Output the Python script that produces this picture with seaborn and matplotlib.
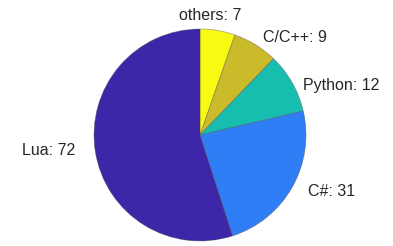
import matplotlib
matplotlib.use("Agg")
import matplotlib.pyplot as plt
import seaborn as sns

languages = ['others', 'C/C++', 'Python', 'C#', 'Lua']
counts = [7, 9, 12, 31, 72]
colors = ['#F9FA14', '#CBBB2B', '#17BEB0', '#307EF6', '#3D27A8']

sns.set_style("white")
plt.rcParams['font.family'] = ['Liberation Sans', 'DejaVu Sans']

fig = plt.figure(figsize=(3.93, 2.46), dpi=100)
# pie centred at (200,135) px with radius 106 px
ax = fig.add_axes([94 / 393, 5 / 246, 212 / 393, 212 / 246])

labels = [f'{l}: {c}' for l, c in zip(languages, counts)]
wedges, texts = ax.pie(counts, labels=labels, colors=colors, startangle=90,
                       counterclock=False, labeldistance=1.1,
                       wedgeprops=dict(edgecolor=(0.3, 0.3, 0.3, 0.5), linewidth=0.5),
                       textprops=dict(fontsize=11.5))

# label placement (matlab style), in pie radius units
label_xy = [(0.099, 1.085), (0.594, 0.873), (0.972, 0.42), (1.019, -0.575), (-1.179, -0.189)]
label_ha = ['center', 'left', 'left', 'left', 'right']
for t, xy, ha in zip(texts, label_xy, label_ha):
    t.set_position(xy)
    t.set_horizontalalignment(ha)
    t.set_verticalalignment('baseline')

ax.set_xlim(-1, 1)
ax.set_ylim(-1, 1)
ax.set_aspect('equal')
ax.axis('off')

fig.savefig('out.png', dpi=100)
